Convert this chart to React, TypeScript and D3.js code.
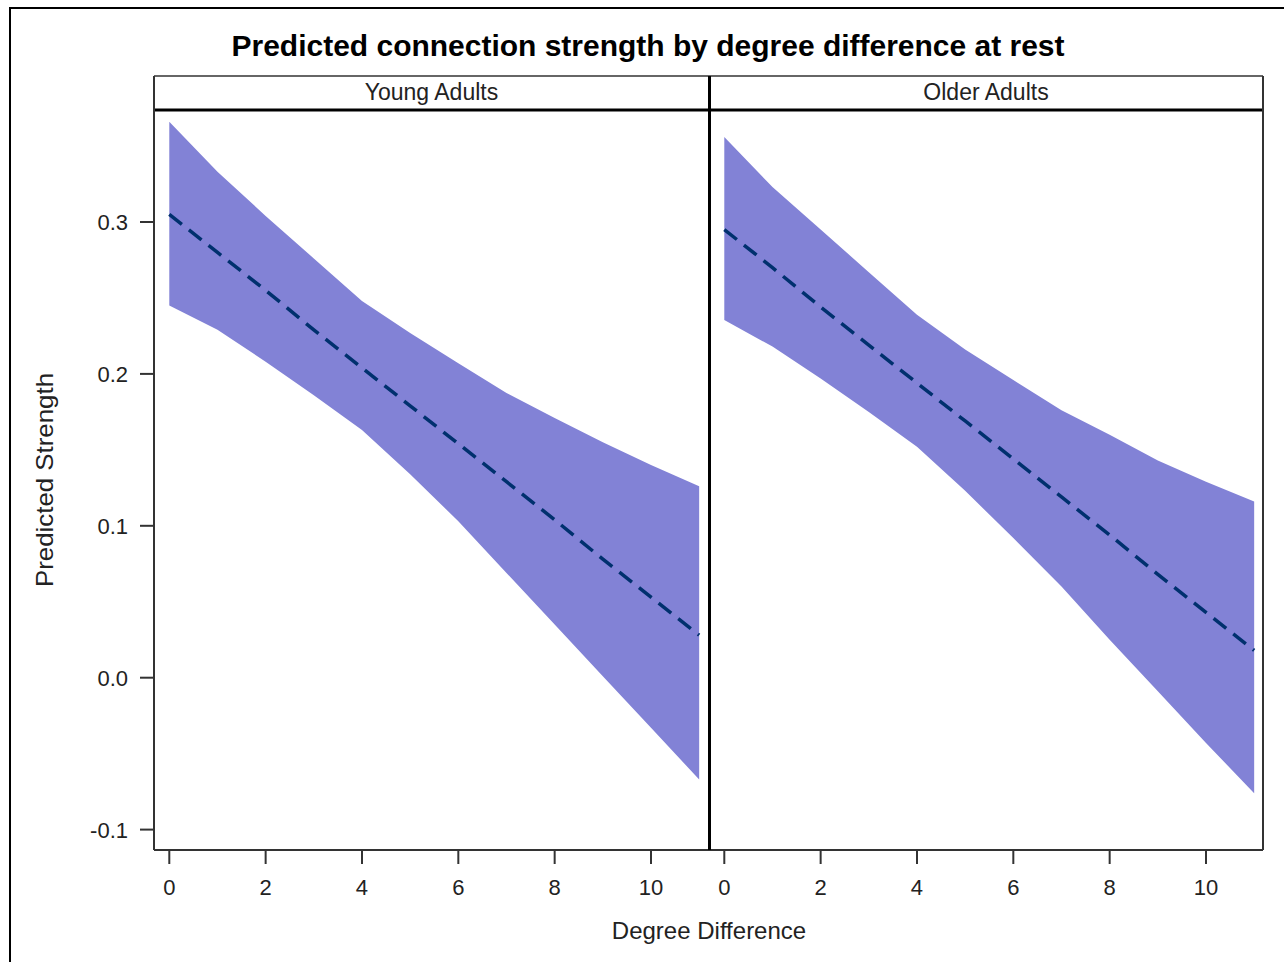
import React from "react";
import * as d3 from "d3";

const degree = [0, 1, 2, 3, 4, 5, 6, 7, 8, 9, 10, 11];
const youngMean = [0.305, 0.28, 0.255, 0.229, 0.204, 0.179, 0.154, 0.129, 0.104, 0.078, 0.053, 0.028];
const youngUpper = [0.366, 0.333, 0.304, 0.276, 0.248, 0.227, 0.207, 0.1875, 0.171, 0.155, 0.14, 0.126];
const youngLower = [0.245, 0.229, 0.208, 0.186, 0.163, 0.134, 0.103, 0.069, 0.035, 0.001, -0.033, -0.067];
const olderMean = [0.295, 0.27, 0.244, 0.219, 0.194, 0.169, 0.144, 0.119, 0.094, 0.068, 0.043, 0.018];
const olderUpper = [0.356, 0.323, 0.295, 0.267, 0.239, 0.216, 0.196, 0.176, 0.16, 0.143, 0.129, 0.116];
const olderLower = [0.2355, 0.218, 0.197, 0.175, 0.152, 0.123, 0.092, 0.06, 0.025, -0.009, -0.043, -0.076];

const panels = [
  { name: "Young Adults", mean: youngMean, upper: youngUpper, lower: youngLower },
  { name: "Older Adults", mean: olderMean, upper: olderUpper, lower: olderLower },
];
const xTicks = [0, 2, 4, 6, 8, 10];
const yTicks = [-0.1, 0.0, 0.1, 0.2, 0.3];
const title = "Predicted connection strength by degree difference at rest";
const xLabel = "Degree Difference";
const yLabel = "Predicted Strength";

const FONT = "'Liberation Sans', Arial, sans-serif";
const W = 1284;
const H = 962;
const plotTop = 110;
const plotBottom = 850;
const stripTop = 76;
const panelEdges = [
  [154, 709],
  [709, 1263],
];
const BAND = "#8282d6";
const LINE = "#00306e";
const AXIS = "#333333";

const fmtTick = (t: number) => d3.format(".1f")(t).replace("\u2212", "-");

export default function App() {
  const y = d3.scaleLinear().domain([-0.1, 0.3]).range([829.6, 222]);
  return (
    <svg
      width={W}
      height={H}
      style={{ position: "absolute", left: 0, top: 0, background: "#fff" }}
      fontFamily={FONT}
    >
      <rect x={0} y={0} width={W} height={H} fill="#fff" />
      {/* outer frame */}
      <path d={`M10,${H + 5} V8 H${W + 5}`} fill="none" stroke="#000" strokeWidth={2} />
      <text x={648} y={56} textAnchor="middle" fontSize={29} fontWeight="bold" fill="#000" textLength={833} lengthAdjust="spacingAndGlyphs">
        {title}
      </text>
      {panels.map((p, i) => {
        const [l, r] = panelEdges[i];
        const x = d3.scaleLinear().domain([0, 11]).range([l + 15.3, l + 15.3 + 11 * 48.17]);
        const area = d3
          .area<number>()
          .x((d) => x(d))
          .y0((d, k) => y(p.lower[k]))
          .y1((d, k) => y(p.upper[k]));
        const line = d3
          .line<number>()
          .x((d) => x(d))
          .y((d, k) => y(p.mean[k]));
        return (
          <g key={p.name}>
            <path d={area(degree) || ""} fill={BAND} stroke="none" />
            <path d={line(degree) || ""} fill="none" stroke={LINE} strokeWidth={3.5} strokeDasharray="16 9" />
            {/* strip */}
            <rect x={l} y={stripTop} width={r - l} height={plotTop - stripTop} fill="#fff" stroke="none" />
            <line x1={l} x2={r} y1={stripTop} y2={stripTop} stroke={AXIS} strokeWidth={1.5} />
            <text x={(l + r) / 2} y={100} textAnchor="middle" fontSize={23} fill="#222">
              {p.name}
            </text>
            {/* bottom axis */}
            <line x1={l} x2={r} y1={plotBottom} y2={plotBottom} stroke={AXIS} strokeWidth={2} />
            {xTicks.map((t) => (
              <g key={t}>
                <line x1={x(t)} x2={x(t)} y1={plotBottom} y2={plotBottom + 14} stroke={AXIS} strokeWidth={2} />
                <text x={x(t)} y={895} textAnchor="middle" fontSize={22} fill="#222">
                  {t}
                </text>
              </g>
            ))}
          </g>
        );
      })}
      {/* strip bottom line */}
      <line x1={154} x2={1263} y1={plotTop} y2={plotTop} stroke="#000" strokeWidth={3} />
      {/* left axis */}
      <line x1={154} x2={154} y1={stripTop} y2={plotBottom} stroke={AXIS} strokeWidth={2} />
      {yTicks.map((t) => (
        <g key={t}>
          <line x1={140} x2={154} y1={y(t)} y2={y(t)} stroke={AXIS} strokeWidth={2} />
          <text x={128} y={y(t) + 8} textAnchor="end" fontSize={22} fill="#222">
            {fmtTick(t)}
          </text>
        </g>
      ))}
      {/* separator */}
      <line x1={709.5} x2={709.5} y1={stripTop} y2={plotBottom} stroke="#000" strokeWidth={3} />
      {/* right border */}
      <line x1={1263} x2={1263} y1={stripTop} y2={plotBottom} stroke={AXIS} strokeWidth={2} />
      <text x={709} y={939} textAnchor="middle" fontSize={24} fill="#222">
        {xLabel}
      </text>
      <text transform="translate(53,480) rotate(-90)" textAnchor="middle" fontSize={24} fill="#222" textLength={214} lengthAdjust="spacingAndGlyphs">
        {yLabel}
      </text>
    </svg>
  );
}
